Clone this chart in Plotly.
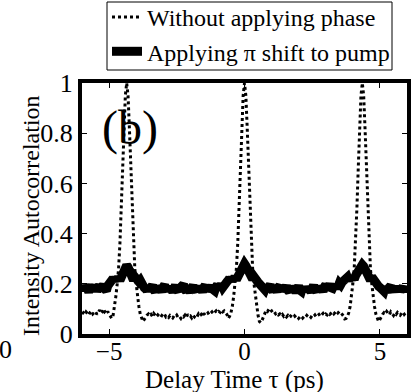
import numpy as np
import plotly.graph_objects as go

# Delay axis sampling (ps)
delay = np.round(np.linspace(-6, 6, 241), 2)

# "Without applying phase" (dotted trace)
without_phase = (
    [.080, .085, .078, .088, .082, .075, .086, .092, .080, .084, .090, .078, .085, .095, .082, .088, .100, .085, .080, .090, .078, .072]
    + [.062, .075, .11, .15, .20, .26, .36, .50, .66, .82, .95, 1.0, .95, .82, .66, .50, .36, .26, .20, .15, .11, .08, .06, .05, .058, .068]
    + [.075, .080, .072, .078, .070, .082, .075, .068, .076, .072,
       .065, .074, .070, .078, .068, .072, .066, .074, .070, .064,
       .072, .068, .075, .066, .070, .062, .072, .068, .075, .066,
       .078, .070, .072, .064, .074, .068, .076, .070, .080, .072,
       .078, .070, .082, .074, .078, .084, .076, .082, .088, .080,
       .086, .092, .084, .090, .086, .095, .088, .092, .085, .078]
    + [.062, .070, .085, .11, .15, .20, .26, .36, .50, .66, .82, .95, 1.0, .95, .82, .66, .50, .36, .26, .20, .15, .11, .075, .05, .045, .055, .068]
    + [.085, .095, .090, .098, .088, .092, .084, .088, .080, .084,
       .076, .080, .072, .078, .070, .075, .068, .074, .066, .072,
       .068, .064, .072, .066, .070, .062, .068, .072, .064, .070,
       .066, .074, .068, .072, .066, .074, .070, .076, .068, .074,
       .078, .070, .076, .082, .074, .080, .076, .084, .078, .082,
       .088, .080, .086, .092, .084, .090, .086, .080, .072]
    + [.060, .062, .070, .085, .11, .15, .20, .26, .36, .50, .66, .82, .95, 1.0, .95, .82, .66, .50, .36, .26, .20, .15, .11, .08, .06, .05, .058, .070]
    + [.078, .085, .080, .090, .082, .076, .088, .080, .074, .084, .078, .086, .080, .075, .082, .088, .078, .084, .080]
)

# "Applying pi shift to pump" (thick solid trace)
with_pi_shift = (
    [.176, .190, .172, .194, .180, .168, .188, .196, .174, .186, .192, .170, .184, .196, .174, .188, .198, .178, .172, .192, .198, .206]
    + [.214, .222, .210, .226, .212, .228, .214, .230, .240, .252, .266, .274, .266, .252, .238, .226, .214, .228, .212, .224, .208, .214, .198, .196, .184, .180]
    + [.172, .188, .170, .186, .194, .176, .168, .188, .174, .190,
       .178, .168, .188, .196, .172, .186, .170, .190, .178, .168,
       .186, .194, .176, .170, .188, .172, .192, .198, .176, .170,
       .188, .174, .166, .184, .192, .176, .170, .188, .172, .190,
       .178, .168, .186, .194, .174, .188, .170, .186, .192, .176,
       .172, .188, .196, .178, .192, .198, .186, .200, .204, .208]
    + [.214, .222, .210, .226, .214, .230, .216, .226, .232, .244, .258, .272, .280, .272, .258, .244, .230, .226, .218, .228, .214, .222, .206, .200, .192, .186, .180]
    + [.176, .190, .174, .188, .196, .178, .170, .190, .176, .168,
       .186, .192, .172, .188, .170, .184, .192, .174, .168, .186,
       .172, .190, .176, .166, .180, .192, .174, .170, .188, .172,
       .184, .170, .188, .176, .168, .186, .194, .176, .170, .188,
       .174, .190, .178, .170, .188, .196, .178, .190, .198, .184,
       .182, .194, .180, .198, .188, .202, .196, .206, .210]
    + [.214, .220, .226, .212, .228, .216, .230, .218, .232, .240, .252, .264, .272, .276, .270, .256, .242, .230, .226, .214, .228, .216, .214, .204, .198, .190, .186, .180]
    + [.176, .170, .188, .174, .166, .186, .192, .172, .182, .168, .188, .174, .190, .170, .180, .188, .170, .184, .176]
)

assert len(without_phase) == len(delay), len(without_phase)
assert len(with_pi_shift) == len(delay), len(with_pi_shift)

x_ticks = [-5, 0, 5]
y_ticks = [0, 0.2, 0.4, 0.6, 0.8, 1]
y_tick_text = ["0", "0.2", "0.4", "0.6", "0.8", "1"]

FONT = "Liberation Serif"

# plot area in pixels: x 82..407, y 83..334
L, R, T, B = 82, 407, 83, 334
W, H = R - L, B - T


def px(x):
    return (x - L) / W


def py(y):
    return (B - y) / H


fig = go.Figure()
fig.add_trace(go.Scatter(
    x=delay, y=without_phase, mode="lines",
    name="Without applying phase",
    line=dict(color="black", width=3, dash="dot"),
))
fig.add_trace(go.Scatter(
    x=delay, y=with_pi_shift, mode="lines",
    name="Applying \u03c0 shift to pump",
    line=dict(color="black", width=9),
))

fig.update_layout(
    width=412, height=392,
    margin=dict(l=L, r=412 - R, t=T, b=392 - B, autoexpand=False),
    paper_bgcolor="white", plot_bgcolor="white",
    font=dict(family=FONT, color="black", size=24),
    showlegend=True,
    legend=dict(
        x=px(107), y=py(-5), xanchor="left", yanchor="top",
        borderwidth=0, bgcolor="rgba(0,0,0,0)",
        font=dict(family=FONT, size=24, color="black"),
        tracegroupgap=0, itemwidth=30,
    ),
    xaxis=dict(
        range=[-6, 6], tickvals=x_ticks, ticks="inside", ticklen=5,
        tickwidth=1, tickcolor="black", showline=True, linewidth=4,
        linecolor="black", mirror="ticks", showgrid=False, zeroline=False,
        tickfont=dict(family=FONT, size=25), ticklabelstandoff=-8,
    ),
    yaxis=dict(
        range=[0, 1], tickvals=y_ticks, ticktext=y_tick_text, ticks="inside",
        ticklen=5, tickwidth=1, tickcolor="black", showline=True, linewidth=4,
        linecolor="black", mirror="ticks", showgrid=False, zeroline=False,
        tickfont=dict(family=FONT, size=26),
    ),
    shapes=[
        dict(type="rect", xref="paper", yref="paper",
             x0=px(107), x1=px(392), y0=py(70), y1=py(2),
             line=dict(color="black", width=1), fillcolor="rgba(0,0,0,0)", layer="above"),
    ],
    annotations=[
        dict(x=px(234.5), y=py(380), xref="paper", yref="paper",
             text="Delay Time \u03c4 (ps)", showarrow=False,
             font=dict(size=25, family=FONT, color="black"),
             xanchor="center", yanchor="middle"),
        dict(x=px(31), y=py(216), xref="paper", yref="paper",
             text="Intensity Autocorrelation", showarrow=False, textangle=-90,
             font=dict(size=24, family=FONT, color="black"),
             xanchor="center", yanchor="middle"),
        dict(x=-4.23, y=0.82, xref="x", yref="y", text="(b)", showarrow=False,
             font=dict(size=48, family=FONT, color="black"),
             xanchor="center", yanchor="middle"),
        dict(x=px(14), y=py(349), xref="paper", yref="paper",
             text="80", showarrow=False, font=dict(size=26, family=FONT, color="black"),
             xanchor="right", yanchor="middle"),
    ],
)

fig.write_html("out.html")
